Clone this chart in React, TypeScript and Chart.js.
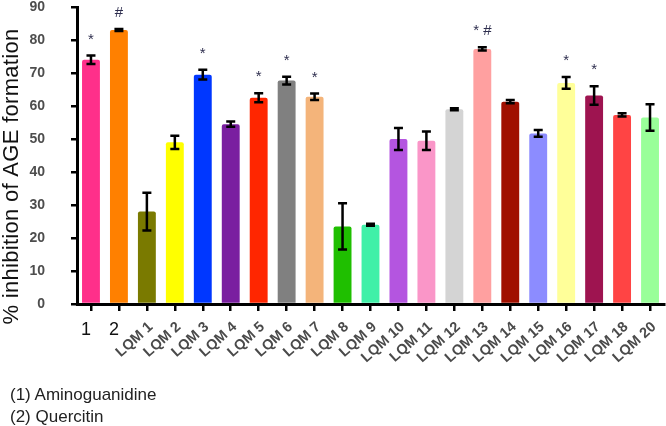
import React, { useEffect, useRef } from 'react';
import { Chart, registerables } from 'chart.js';

Chart.register(...registerables);

const FONT = '"Liberation Sans", Arial, Helvetica, sans-serif';

const categories = [
  '1', '2', 'LQM 1', 'LQM 2', 'LQM 3', 'LQM 4', 'LQM 5', 'LQM 6', 'LQM 7', 'LQM 8', 'LQM 9',
  'LQM 10', 'LQM 11', 'LQM 12', 'LQM 13', 'LQM 14', 'LQM 15', 'LQM 16', 'LQM 17', 'LQM 18', 'LQM 20',
];

const values = [
  74, 83, 28, 49, 69.5, 54.5, 62.5, 67.7, 62.8, 23.5, 24,
  50, 49.5, 59, 77.3, 61.3, 51.7, 67, 63.2, 57.3, 56.5,
];

const errors = [
  1.3, 0.3, 5.7, 2, 1.5, 0.8, 1.4, 1.2, 1.0, 7, 0.3,
  3.3, 2.8, 0.3, 0.5, 0.5, 1, 1.8, 2.8, 0.5, 4,
];

const marks = [
  '*', '#', '', '', '*', '', '*', '*', '*', '', '',
  '', '', '', '* #', '', '', '*', '*', '', '',
];

const colors = [
  '#ff2f8a', '#ff8000', '#7a7a00', '#ffff00', '#0037ff', '#7a1fa0', '#ff2600', '#808080', '#f4b47a', '#1fbf00', '#40f0a8',
  '#b455e0', '#fa96c8', '#d4d4d4', '#ffa0a0', '#a01000', '#8c8cff', '#ffff99', '#9e1450', '#ff4444', '#99ff99',
];

const yMin = 0;
const yMax = 90;
const yStep = 10;

const yTitle = '% inhibition of AGE formation';
const footnotes = ['(1) Aminoguanidine', '(2) Quercitin'];

const overlayPlugin = {
  id: 'overlay',
  afterDatasetsDraw(chart: any) {
    const ctx = chart.ctx;
    const meta = chart.getDatasetMeta(0);
    const y = chart.scales.y;
    ctx.save();
    meta.data.forEach((bar: any, i: number) => {
      const x = bar.x;
      const top = y.getPixelForValue(values[i] + errors[i]);
      const bot = y.getPixelForValue(values[i] - errors[i]);
      ctx.strokeStyle = '#000';
      ctx.lineWidth = 2.5;
      ctx.lineCap = 'butt';
      ctx.beginPath();
      ctx.moveTo(x, top);
      ctx.lineTo(x, bot);
      ctx.moveTo(x - 4.5, top);
      ctx.lineTo(x + 4.5, top);
      ctx.moveTo(x - 4.5, bot);
      ctx.lineTo(x + 4.5, bot);
      ctx.stroke();
      if (marks[i]) {
        ctx.fillStyle = '#2e2e4e';
        ctx.font = `15px ${FONT}`;
        ctx.textAlign = 'center';
        ctx.textBaseline = 'middle';
        ctx.fillText(marks[i], x, top - 16);
      }
    });
    ctx.restore();
  },
  afterDraw(chart: any) {
    const ctx = chart.ctx;
    const xs = chart.scales.x;
    const area = chart.chartArea;
    ctx.save();
    categories.forEach((label: string, i: number) => {
      const x = xs.getPixelForValue(i);
      if (label.startsWith('LQM')) {
        ctx.save();
        ctx.translate(x + 4, area.bottom + 21);
        ctx.rotate((-42 * Math.PI) / 180);
        ctx.font = `bold 14.5px ${FONT}`;
        ctx.fillStyle = '#4a4a4a';
        ctx.textAlign = 'right';
        ctx.textBaseline = 'middle';
        ctx.fillText(label, 0, 0);
        ctx.restore();
      } else {
        ctx.font = `18px ${FONT}`;
        ctx.fillStyle = '#111';
        ctx.textAlign = 'center';
        ctx.textBaseline = 'top';
        ctx.fillText(label, x - 5, area.bottom + 17);
      }
    });
    ctx.save();
    ctx.translate(12, (area.top + area.bottom) / 2 + 21);
    ctx.rotate(-Math.PI / 2);
    ctx.font = `22px ${FONT}`;
    try { (ctx as any).letterSpacing = '0.3px'; } catch (e) {}
    ctx.fillStyle = '#111';
    ctx.textAlign = 'center';
    ctx.textBaseline = 'middle';
    ctx.fillText(yTitle, 0, 0);
    ctx.restore();
    ctx.restore();
  },
};

export default function App() {
  const canvasRef = useRef<HTMLCanvasElement | null>(null);

  useEffect(() => {
    if (!canvasRef.current) return;
    const chart = new Chart(canvasRef.current, {
      type: 'bar',
      data: {
        labels: categories,
        datasets: [
          {
            data: values,
            backgroundColor: colors,
            barPercentage: 0.64,
            categoryPercentage: 1,
            borderRadius: 2,
            borderSkipped: 'bottom',
          },
        ],
      },
      options: {
        responsive: true,
        maintainAspectRatio: false,
        animation: false,
        layout: { padding: { top: 7, right: 2, left: 0, bottom: 0 } },
        plugins: {
          legend: { display: false },
          tooltip: { enabled: false },
        },
        scales: {
          x: {
            grid: {
              display: true,
              drawOnChartArea: false,
              drawTicks: true,
              tickLength: 7,
              color: '#000',
              lineWidth: 2.5,
              offset: false,
            },
            border: { display: true, color: '#000', width: 3 },
            ticks: { display: false },
            afterFit: (s: any) => {
              s.height = 122;
              s.paddingLeft = 0;
              s.paddingRight = 0;
            },
          },
          y: {
            min: yMin,
            max: yMax,
            ticks: {
              stepSize: yStep,
              font: { family: FONT, size: 14, weight: 'bold', lineHeight: 1 },
              color: '#4d4d4d',
              padding: 26,
            },
            grid: {
              drawOnChartArea: false,
              drawTicks: true,
              tickLength: 6,
              color: '#000',
              lineWidth: 2.5,
            },
            border: { display: true, color: '#000', width: 3 },
            afterFit: (s: any) => {
              s.width = 77;
              s.paddingTop = 0;
              s.paddingBottom = 0;
            },
          },
        },
      },
      plugins: [overlayPlugin],
    } as any);
    return () => chart.destroy();
  }, []);

  return (
    <div style={{ position: 'absolute', left: 0, top: 0, width: 666, height: 426 }}>
      <canvas ref={canvasRef} />
      {footnotes.map((t, i) => (
        <div
          key={i}
          style={{
            position: 'absolute',
            left: 10,
            top: 384 + i * 22,
            fontFamily: FONT,
            fontSize: 17,
            lineHeight: '22px',
            color: '#222',
            whiteSpace: 'nowrap',
          }}
        >
          {t}
        </div>
      ))}
    </div>
  );
}
